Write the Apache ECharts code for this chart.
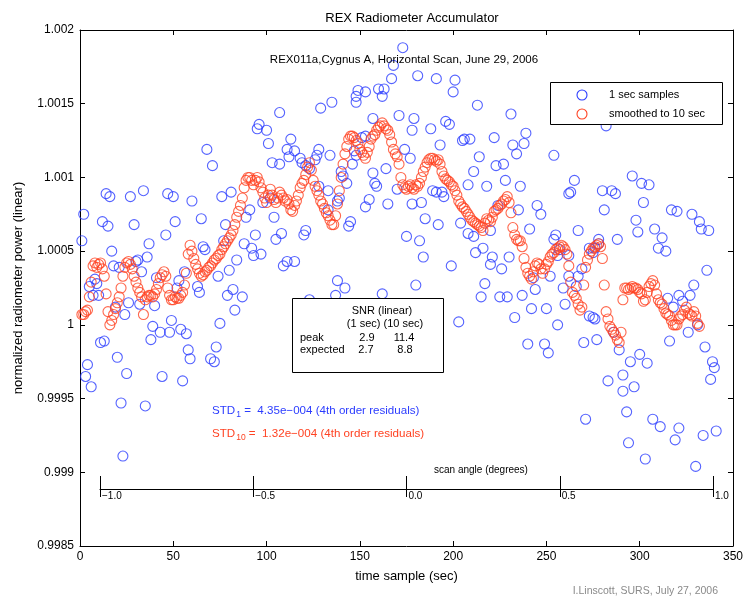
<!DOCTYPE html>
<html><head><meta charset="utf-8">
<script src="https://cdn.jsdelivr.net/npm/echarts@6/dist/echarts.min.js"></script>
<style>html,body{margin:0;padding:0;background:#fff}#c{width:746px;height:599px}</style>
</head><body><div id="c"></div>
<script>
const FONT = '"Liberation Sans", Arial, Helvetica, sans-serif';
const BLUE = '#2b3cff';
const RED = '#ff4222';

const titleText = 'REX Radiometer Accumulator';
const subtitleText = 'REX011a,Cygnus A, Horizontal Scan, June 29, 2006';
const xName = 'time sample (sec)';
const yName = 'normalized radiometer power (linear)';
const legendNames = ['1 sec samples', 'smoothed to 10 sec'];
const scanAngleTicks = ['\u22121.0', '\u22120.5', '0.0', '0.5', '1.0'];
const scanAngleName = 'scan angle (degrees)';
const snrHeader = ['SNR (linear)', '(1 sec) (10 sec)'];
const snrRows = [['peak', '2.9', '11.4'], ['expected', '2.7', '8.8']];
const stdBlue = ['STD', '1', ' =  4.35e\u2212004 (4th order residuals)'];
const stdRed = ['STD', '10', ' =  1.32e\u2212004 (4th order residuals)'];
const creditText = 'I.Linscott, SURS, July 27, 2006';

// 1 sec samples: [time (sec), normalized power]
const blueSamples = [
[1,1.00057],[2,1.00075],[3,0.99965],[4,0.99973],[5,1.00026],[6,0.99958],[7,1.0002],[8,1.00031],[9,1.00028],[10,1.0002],
[11,0.99988],[12,1.0007],[13,0.99989],[14,1.00089],[15,1.00067],[16,1.00087],[17,1.0005],[18,1.0004],[19,1.00012],[20,0.99978],
[21,1.00039],[22,0.99947],[23,0.99911],[24,1.00007],[25,0.99967],[26,1.00015],[27,1.00087],[29,1.00068],[30,1.00043],[31,1.00044],
[32,1.00014],[33,1.00036],[34,1.00091],[35,0.99945],[36,1.00046],[37,1.00055],[38,0.9999],[39,0.99999],[40,1.00013],[41,1.00032],
[43,0.99995],[44,0.99965],[46,1.00061],[47,1.00089],[48,0.99995],[49,1.00003],[50,1.00087],[51,1.0007],[52,1.00025],
[53,1.0003],[54,0.99997],[55,0.99962],[56,1.00036],[57,0.99994],[58,0.99983],[59,0.99977],[60,1.00084],[63,1.00026],[64,1.00022],
[65,1.00072],[66,1.00053],[67,1.00051],[68,1.00119],[70,0.99977],[71,1.00108],[72,0.99975],[73,0.99985],[74,1.00033],[75,1.00001],
[76,1.00087],[77,1.00057],[78,1.00068],[79,1.0002],[80,1.00037],[81,1.0009],[82,1.00024],[83,1.0001],[84,1.00044],[87,1.00019],
[88,1.00055],[89,1.00073],[91,1.00078],[92,1.00052],[93,1.00047],[94,1.00061],[95,1.00133],[96,1.00136],[97,1.00048],[98,1.00083],
[100,1.00132],[101,1.00123],[102,1.00086],[103,1.0011],[104,1.00073],[105,1.00058],
[107,1.00144],[107,1.00109],[108,1.00062],[109,1.0004],[111,1.00043],[111,1.00119],[112,1.00114],[113,1.00126],[115,1.00118],[115,1.00043],
[118,1.00113],[119,1.0011],[120,1.00061],[121,1.00108],[121,1.00064],[123,1.00106],[123,1.00017],[126,1.00112],[127,1.00115],[128,1.00119],
[128,1.00094],[129,1.00147],[133,1.00091],[133,1.00078],[134,1.00115],[135,1.00151],[137,1.0002],[138,1.00084],[138,1.0003],[139,1.00086],
[140,1.00104],[141,1.00101],[142,1.00025],[143,1.00096],[144,1.00067],[145,1.0007],[146,1.00109],[147,1.00118],[148,1.00151],[148,1.00155],
[148,1.00115],[149,1.00159],[151,1.00127],[153,1.00158],[153,1.00128],
[153,1.0008],[155,1.00085],[157,1.00103],[157,1.0014],[158,1.00096],[159,1.00094],[160,1.0016],[162,1.00021],[162,1.00155],[163,1.0016],
[164,1.00106],[165,1.00082],[167,1.00167],[168,1.00176],[170,1.00092],[171,1.00142],[173,1.00188],[174,1.00119],[175,1.0006],[177,1.00113],
[178,1.00082],[178,1.00132],[179,1.0014],[180,1.00027],[181,1.00169],[182,1.00057],[183,1.00083],[184,1.00046],[185,1.00072],[188,1.00133],
[189,1.00091],[191,1.0009],[191,1.00167],[192,1.00068],[193,1.00122],[194,1.0009],[195,1.00087],[196,1.00138],[198,1.00136],[199,1.0004],
[200,1.00158],[201,1.00166],[203,1.00002],[204,1.00069],[205,1.00125],
[206,1.00126],[208,1.00095],[208,1.00062],[209,1.00126],[211,1.00104],[211,1.0006],[212,1.00049],[213,1.00149],[214,1.00114],[215,1.00019],
[216,1.00052],[217,1.00028],[218,1.00094],[220,1.00041],[220,1.00064],[221,1.00046],[222,1.00127],[223,1.00108],[224,1.00081],[225,1.00019],
[226,1.00038],[227,1.00109],[228,1.00098],[229,1.00019],[230,1.00046],[231,1.00143],[232,1.00122],[233,1.00005],[234,1.00116],[235,1.00078],
[236,1.00094],[237,1.0002],[238,1.00123],[239,1.0013],[240,0.99987],[241,1.00065],[242,1.00011],[243,1.00032],[244,1.00024],[245,1.00081],
[247,1.00075],[249,0.99987],[250,1.00011],[251,0.99981],[252,1.00033],[254,1.00058],[255,1.00061],[256,1.0],
[254,1.00115],[256,1.00047],[257,1.00051],[259,1.00025],[260,1.00014],[262,1.00047],[262,1.00089],[262,1.00033],[263,1.0009],[265,1.00098],
[266,1.00026],[267,1.00064],[267,1.00033],[269,1.00038],[270,0.99988],[271,0.99936],[273,1.00052],[273,1.00006],[275,1.00049],[275,1.00005],
[276,1.00052],[276,1.00004],[277,0.9999],[278,1.00058],[278,1.00055],[280,1.00091],[281,1.00078],[282,1.00135],[283,0.99962],[285,1.00091],
[286,0.99995],[287,1.00089],[288,1.00058],[289,0.99983],[291,0.99955],[291,0.99966],[293,0.99941],[294,0.9992],[295,0.99975],[296,1.00101],
[297,0.99958],[298,1.00071],[299,1.00063],[300,0.9998],[301,1.00096],[302,1.00083],[303,0.99909],[304,0.99974],[305,1.00095],[307,0.99936],
[308,1.00065],[310,1.00052],[311,0.99931],[312,1.00059],[314,1.0005],[315,1.00018],[316,0.99989],[317,1.00078],[318,1.00012],[319,0.99922],
[320,1.00077],[321,0.9993],[321,1.0002],[323,1.00016],[326,0.99995],[327,1.0002],[328,1.00075],[329,1.00027],[330,0.99904],[331,1.0],
[332,1.0007],[333,1.00065],[334,0.99925],[335,0.99985],[336,1.00037],[337,1.00064],[338,0.99963],[339,0.99975],[340,0.99971],[341,0.99928]
];

// smoothed to 10 sec: one value per second, starting at t = 1
const smoothStart = 1;
const smoothValues = [
1.00007,1.00007,1.00009,1.0001,1.00019,1.00029,1.0004,1.00042,1.00039,1.00041,
1.00042,1.00038,1.00033,1.00021,1.00009,1,1.00003,1.00007,1.00011,1.00015,
1.00019,1.00025,1.00033,1.00039,1.00042,1.00043,1.00041,1.00038,1.00033,1.00029,
1.00025,1.00022,1.00019,1.00007,1.00017,1.00019,1.0002,1.0002,1.00019,1.00021,
1.00024,1.00028,1.00032,1.00034,1.00036,1.00033,1.00025,1.0002,1.00017,1.00017,
1.00019,1.00018,1.00018,1.0002,1.00022,1.00027,1.00035,1.00048,1.00054,1.0005,
1.00045,1.00041,1.00038,1.00035,1.00033,1.00034,1.00036,1.00037,1.00039,1.0004,
1.00042,1.00044,1.00045,1.00047,1.00048,1.00051,1.00053,1.00055,1.00057,1.00059,
1.00061,1.00064,1.00068,1.00073,1.00077,1.00081,1.00086,1.00093,1.00098,1.001,
1.001,1.00098,1.00095,1.00098,1.001,1.00097,1.00093,1.0009,1.00086,1.00083,
1.00088,1.00092,1.00088,1.00085,1.00083,1.00086,1.0009,1.00088,1.00086,1.00084,
1.00085,1.00082,1.00078,1.00077,1.00081,1.00084,1.00088,1.00093,1.00096,1.00098,
1.00102,1.00107,1.0011,1.00105,1.00098,1.00094,1.00091,1.00088,1.00084,1.00082,
1.00079,1.00076,1.00074,1.00071,1.00068,1.00068,1.00074,1.00082,1.00091,1.001,
1.00109,1.00116,1.00121,1.00126,1.00128,1.00128,1.00127,1.00125,1.00123,1.00119,
1.00117,1.00115,1.00113,1.00117,1.00121,1.00126,1.00128,1.00129,1.00132,1.00134,
1.00135,1.00137,1.00135,1.00133,1.00132,1.00129,1.00124,1.00119,1.00116,1.00114,
1.00109,1.001,1.00095,1.00093,1.00092,1.00094,1.00095,1.00093,1.00092,1.00095,
1.00094,1.00096,1.001,1.00104,1.00107,1.0011,1.00112,1.00113,1.00113,1.00112,
1.00111,1.00112,1.00109,1.00104,1.00101,1.00099,1.00098,1.00097,1.00095,1.00094,
1.00091,1.00088,1.00084,1.00082,1.0008,1.00079,1.00077,1.00075,1.00073,1.00071,
1.0007,1.00069,1.00068,1.00067,1.00066,1.00064,1.00069,1.00072,1.00071,1.0007,
1.00073,1.00077,1.00078,1.00079,1.00081,1.00082,1.00084,1.00085,1.00087,1.00083,
1.00076,1.00066,1.00061,1.00058,1.00057,1.00057,1.00053,1.00045,1.00039,1.00035,
1.00033,1.00031,1.00036,1.0004,1.00042,1.00041,1.00038,1.00035,1.00038,1.00041,
1.00043,1.00046,1.00048,1.00049,1.00051,1.00052,1.00053,1.00054,1.00053,1.00051,
1.00048,1.0004,1.00029,1.00022,1.0002,1.00018,1.00014,1.0001,1.00012,1.00027,
1.00039,1.00044,1.00048,1.0005,1.00052,1.00053,1.00054,1.00055,1.00053,1.00045,
1.00027,1.00009,1.00004,0.99999,0.99997,0.99995,0.99993,0.9999,0.99988,0.99995,
1.00017,1.00025,1.00025,1.00024,1.00025,1.00026,1.00025,1.00025,1.00024,1.00022,
1.00021,1.00016,1.00017,1.00022,1.00026,1.00028,1.0003,1.00027,1.00021,1.00017,
1.00015,1.00014,1.00011,1.00008,1.00007,1.00006,1.00003,1,1,1,
1.00004,1.00006,1.00007,1.0001,1.00012,1.00008,1.00007,1.00006,1.00009,1.00006,1.00001,0.99999
];

const smoothData = smoothValues.map((v, i) => [smoothStart + i, v]);

const axisLineStyle = { color: '#000', width: 1 };
const tickStyle = { color: '#000', width: 1 };

const chart = echarts.init(document.getElementById('c'), null, { renderer: 'canvas' });

const txt = (x, y, text, opts = {}) => Object.assign({
  type: 'text', z: 100,
  style: Object.assign({ x, y, text, fill: '#000', font: '11px ' + FONT, textAlign: 'left', textVerticalAlign: 'middle' }, opts)
});

const subRich = (color) => ({
  m: { fontFamily: FONT, fontSize: 11.6, fill: color, color, verticalAlign: 'middle', lineHeight: 16 },
  s: { fontFamily: FONT, fontSize: 8.5, fill: color, color, verticalAlign: 'bottom', lineHeight: 16, padding: [6, 0, 0, 1] }
});

const option = {
  animation: false,
  backgroundColor: '#fff',
  textStyle: { fontFamily: FONT },
  title: {
    text: titleText, left: 407, top: 7, textAlign: 'center',
    textStyle: { fontSize: 13, fontWeight: 'normal', color: '#000', fontFamily: FONT }
  },
  grid: [
    { left: 80, right: 12, top: 30, bottom: 53 },
    { left: 100, width: 613, top: 476, height: 21 }
  ],
  xAxis: [
    {
      gridIndex: 0, type: 'value', min: 0, max: 350, interval: 50, position: 'bottom',
      axisLine: { show: true, onZero: false, lineStyle: axisLineStyle },
      axisTick: { show: true, inside: true, length: 5, lineStyle: tickStyle },
      axisLabel: { color: '#000', fontSize: 12, fontFamily: FONT, margin: 5 },
      splitLine: { show: false },
      name: xName, nameLocation: 'middle', nameGap: 24,
      nameTextStyle: { color: '#000', fontSize: 13, fontFamily: FONT }
    },
    {
      gridIndex: 0, type: 'value', min: 0, max: 350, interval: 50, position: 'top',
      axisLine: { show: true, onZero: false, lineStyle: axisLineStyle },
      axisTick: { show: true, inside: true, length: 5, lineStyle: tickStyle },
      axisLabel: { show: false }, splitLine: { show: false }
    },
    {
      gridIndex: 1, type: 'value', min: -1, max: 1, interval: 0.5, position: 'bottom', offset: -8,
      axisLine: { show: true, onZero: false, lineStyle: axisLineStyle },
      axisTick: { show: false },
      splitLine: { show: true, lineStyle: { color: '#000', width: 1 } },
      axisLabel: {
        color: '#000', fontSize: 10, fontFamily: FONT, margin: 2, align: 'left', padding: [0, 0, 0, 2],
        showMinLabel: true, showMaxLabel: true,
        formatter: (v) => scanAngleTicks[Math.round((v + 1) / 0.5)]
      }
    }
  ],
  yAxis: [
    {
      gridIndex: 0, type: 'value', min: 0.9985, max: 1.002, interval: 0.0005, position: 'left',
      axisLine: { show: true, onZero: false, lineStyle: axisLineStyle },
      axisTick: { show: true, inside: true, length: 5, lineStyle: tickStyle },
      axisLabel: { color: '#000', fontSize: 12, fontFamily: FONT, margin: 6, formatter: (v) => String(+v.toFixed(4)) },
      splitLine: { show: false },
      name: yName, nameLocation: 'middle', nameGap: 55, nameRotate: 90,
      nameTextStyle: { color: '#000', fontSize: 13, fontFamily: FONT }
    },
    {
      gridIndex: 0, type: 'value', min: 0.9985, max: 1.002, interval: 0.0005, position: 'right',
      axisLine: { show: true, onZero: false, lineStyle: axisLineStyle },
      axisTick: { show: true, inside: true, length: 5, lineStyle: tickStyle },
      axisLabel: { show: false }, splitLine: { show: false }
    },
    { gridIndex: 1, type: 'value', min: 0, max: 1, show: false }
  ],
  series: [
    {
      name: legendNames[0], type: 'scatter', xAxisIndex: 0, yAxisIndex: 0,
      data: blueSamples, symbol: 'circle', symbolSize: 10, z: 3,
      itemStyle: { color: 'rgba(0,0,0,0)', borderColor: BLUE, borderWidth: 1.1 },
      emphasis: { disabled: true }, silent: true
    },
    {
      name: legendNames[1], type: 'scatter', xAxisIndex: 0, yAxisIndex: 0,
      data: smoothData, symbol: 'circle', symbolSize: 10, z: 4,
      itemStyle: { color: 'rgba(0,0,0,0)', borderColor: RED, borderWidth: 1.1 },
      emphasis: { disabled: true }, silent: true
    }
  ],
  graphic: [
    txt(404, 60, subtitleText, { textAlign: 'center', font: '11.5px ' + FONT }),
    // legend box
    { type: 'rect', z: 100, shape: { x: 550.5, y: 82.5, width: 172, height: 42 }, style: { fill: '#fff', stroke: '#000', lineWidth: 1 } },
    { type: 'circle', z: 101, shape: { cx: 582, cy: 95, r: 5 }, style: { fill: 'none', stroke: BLUE, lineWidth: 1.1 } },
    { type: 'circle', z: 101, shape: { cx: 582, cy: 114, r: 5 }, style: { fill: 'none', stroke: RED, lineWidth: 1.1 } },
    txt(609, 95, legendNames[0]),
    txt(609, 113.5, legendNames[1]),
    // SNR box
    { type: 'rect', z: 100, shape: { x: 292.5, y: 298.5, width: 151, height: 74 }, style: { fill: '#fff', stroke: '#000', lineWidth: 1 } },
    txt(382, 311, snrHeader[0], { textAlign: 'center' }),
    txt(385, 324, snrHeader[1], { textAlign: 'center' }),
    txt(300, 337.5, snrRows[0][0]),
    txt(367, 337.5, snrRows[0][1], { textAlign: 'center' }),
    txt(404, 337.5, snrRows[0][2], { textAlign: 'center' }),
    txt(300, 349.5, snrRows[1][0]),
    txt(366, 349.5, snrRows[1][1], { textAlign: 'center' }),
    txt(405, 349.5, snrRows[1][2], { textAlign: 'center' }),
    // STD annotations
    {
      type: 'text', z: 100,
      style: { x: 212, y: 411, textVerticalAlign: 'middle', fill: BLUE,
        text: '{m|' + stdBlue[0] + '}{s|' + stdBlue[1] + '}{m|' + stdBlue[2] + '}', rich: subRich(BLUE) }
    },
    {
      type: 'text', z: 100,
      style: { x: 212, y: 434, textVerticalAlign: 'middle', fill: RED,
        text: '{m|' + stdRed[0] + '}{s|' + stdRed[1] + '}{m|' + stdRed[2] + '}', rich: subRich(RED) }
    },
    txt(434, 470, scanAngleName, { font: '10px ' + FONT }),
    txt(718, 591, creditText, { textAlign: 'right', fill: '#8a8a8a', font: '10.5px ' + FONT })
  ]
};

chart.setOption(option);
</script>
</body></html>
